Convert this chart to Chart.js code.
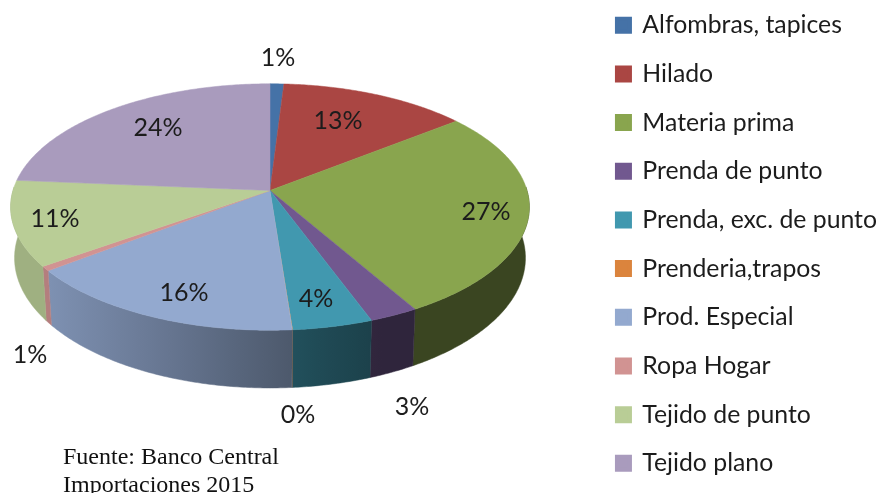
<!DOCTYPE html>
<html><head><meta charset="utf-8">
<script src="https://cdn.jsdelivr.net/npm/chart.js@4"></script>
<style>
html,body{margin:0;padding:0;background:#fff;width:880px;height:493px;overflow:hidden;position:relative}
#c{position:absolute;left:0;display:block}
#note{position:absolute;left:63px;top:442px;font:24px/28px "Liberation Serif",serif;color:#111;white-space:nowrap}
</style></head><body>
<canvas id="c"></canvas>
<div id="note">Fuente: Banco Central<br>Importaciones 2015</div>
<script>
const categories=['Alfombras, tapices','Hilado','Materia prima','Prenda de punto','Prenda, exc. de punto','Prenderia,trapos','Prod. Especial','Ropa Hogar','Tejido de punto','Tejido plano'];
const shares=[0.98,13.4,27.4,2.7,4.4,0.03,15.8,0.6,11.2,23.7];
const colors=['#4572A7','#AA4643','#89A54E','#71588F','#4198AF','#DB843D','#93A9CF','#D19392','#B9CD96','#A99BBD'];
const labelCenters=[[278,58],[338,121],[486,212],[412,407],[316,299],[298,415],[184,293],[30,355],[55,219],[158,128]];

const OFFSET=11, CANVAS_W=887, CANVAS_H=530;
const view={cx:270,cy:190.5+OFFSET,rx:257,ry:121,k:0.134,depth:50,shrink:0.985};
function project(a){
  const u=Math.cos(a),v=Math.sin(a),w=1-view.k*v;
  return {x:view.cx+view.rx*u/w,y:view.cy+view.ry*v/w,w};
}
function lower(p){return {x:view.cx+(p.x-view.cx)*view.shrink,y:p.y+view.depth/p.w};}
function shade(hex,f){
  const n=parseInt(hex.slice(1),16);
  return 'rgb('+[(n>>16)&255,(n>>8)&255,n&255].map(c=>Math.round(c*f)).join(',')+')';
}
function wallFactor(x){
  if(x<=50) return 0.86;
  if(x<=295) return 0.86-(x-50)/245*0.34;
  if(x<=380) return 0.52-(x-295)/85*0.1;
  return 0.42;
}
function sample(a0,a1){
  const n=Math.max(2,Math.ceil(Math.abs(a1-a0)/0.01)),pts=[];
  for(let i=0;i<=n;i++) pts.push(a0+(a1-a0)*i/n);
  return pts;
}
Chart.ArcElement.prototype.draw=function(ctx){
  const color=this.options.backgroundColor;
  const a0=this.startAngle,a1=this.endAngle;
  const hairline=(a1-a0)>0.01;
  // outer wall: the part of the rim that faces the viewer (sin > 0)
  const s=Math.max(a0,-0.03),e=Math.min(a1,Math.PI+0.03);
  if(e>s){
    const rim=sample(s,e).map(project);
    const low=rim.map(lower);
    const xs=rim.map(p=>p.x),minX=Math.min(...xs),maxX=Math.max(...xs);
    const g=ctx.createLinearGradient(minX,0,maxX+0.01,0);
    for(let i=0;i<=4;i++){const x=minX+(maxX-minX)*i/4;g.addColorStop(i/4,shade(color,wallFactor(x)));}
    ctx.beginPath();
    rim.forEach((p,i)=>i?ctx.lineTo(p.x,p.y):ctx.moveTo(p.x,p.y));
    low.reverse().forEach(p=>ctx.lineTo(p.x,p.y));
    ctx.closePath();
    ctx.fillStyle=g;ctx.strokeStyle=g;ctx.lineWidth=0.5;ctx.fill();
    if(hairline) ctx.stroke();
  }
  // top face
  ctx.beginPath();
  ctx.moveTo(view.cx,view.cy);
  sample(a0,a1).map(project).forEach(p=>ctx.lineTo(p.x,p.y));
  ctx.closePath();
  ctx.fillStyle=color;ctx.strokeStyle=color;ctx.lineWidth=0.5;ctx.fill();
  if(hairline) ctx.stroke();
};
const sliceLabels={id:'sliceLabels',afterDatasetsDraw(chart){
  const ctx=chart.ctx,total=shares.reduce((a,b)=>a+b,0);
  ctx.save();
  ctx.font='25px Lato';ctx.fillStyle='#1c1c1c';ctx.textAlign='center';ctx.textBaseline='middle';
  shares.forEach((v,i)=>{
    ctx.fillText(Math.round(v/total*100)+'%',labelCenters[i][0],labelCenters[i][1]+OFFSET);
  });
  ctx.restore();
}};
const canvas=document.getElementById('c');
canvas.width=CANVAS_W;canvas.height=CANVAS_H;
canvas.style.width=CANVAS_W+'px';canvas.style.height=CANVAS_H+'px';canvas.style.top=(-OFFSET)+'px';
new Chart(canvas,{
  type:'pie',
  data:{labels:categories,datasets:[{data:shares,backgroundColor:colors,borderColor:colors,borderWidth:4}]},
  options:{
    responsive:false,animation:false,
    plugins:{
      tooltip:{enabled:false},
      legend:{position:'right',align:'start',
        labels:{boxWidth:13,boxHeight:13,padding:23.87,color:'#1c1c1c',font:{family:'Lato',size:24.8}}}
    }
  },
  plugins:[sliceLabels]
});
</script>
</body></html>
